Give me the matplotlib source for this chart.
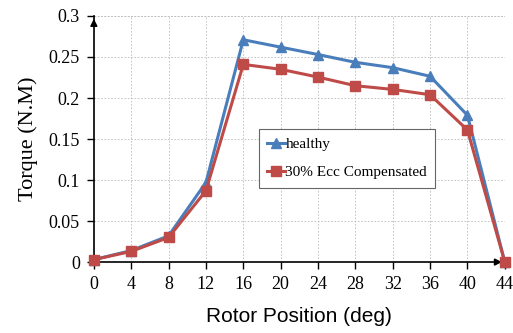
import matplotlib
matplotlib.use("Agg")
import matplotlib.pyplot as plt

positions = [0, 4, 8, 12, 16, 20, 24, 28, 32, 36, 40, 44]
healthy = [0.003, 0.014, 0.032, 0.097, 0.271, 0.262, 0.253, 0.2435, 0.237, 0.2265, 0.179, 0.0]
compensated = [0.003, 0.013, 0.030, 0.087, 0.241, 0.235, 0.2255, 0.215, 0.2105, 0.204, 0.161, 0.0]
xticks = [0, 4, 8, 12, 16, 20, 24, 28, 32, 36, 40, 44]
yticks = [0, 0.05, 0.1, 0.15, 0.2, 0.25, 0.3]
ytick_labels = ["0", "0.05", "0.1", "0.15", "0.2", "0.25", "0.3"]

serif = ["Liberation Serif", "DejaVu Serif"]
sans = ["Liberation Sans", "DejaVu Sans"]

fig = plt.figure(figsize=(5.13, 3.33), dpi=100)
ax = fig.add_axes([0.183, 0.213, 0.801, 0.739])

ax.plot(positions, healthy, color="#4A7EBB", lw=2.2, marker="^", ms=7.5,
        label="healthy", zorder=3, clip_on=False)
ax.plot(positions, compensated, color="#BE4B48", lw=2.2, marker="s", ms=6.5,
        label="30% Ecc Compensated", zorder=4, clip_on=False)

ax.set_xlim(0, 44)
ax.set_ylim(0, 0.3)
ax.set_xticks(xticks)
ax.set_yticks(yticks)
ax.set_yticklabels(ytick_labels)
for lbl in ax.get_xticklabels() + ax.get_yticklabels():
    lbl.set_fontfamily(serif)
    lbl.set_fontsize(13)
ax.tick_params(axis="both", direction="out", length=5, width=1, color="black", pad=5)

ax.grid(True, color="#BBBBBB", linestyle=(0, (2, 2)), linewidth=0.6)
for s in ["top", "right"]:
    ax.spines[s].set_visible(False)
for s in ["left", "bottom"]:
    ax.spines[s].set_linewidth(1.2)

# grid border at top and right
ax.axhline(0.3, color="#BBBBBB", linestyle=(0, (2, 2)), linewidth=0.6, zorder=1)
ax.axvline(44, color="#BBBBBB", linestyle=(0, (2, 2)), linewidth=0.6, zorder=1)

# arrows
ax.annotate("", xy=(0, 1.0), xytext=(0, 0.95), xycoords="axes fraction",
            arrowprops=dict(arrowstyle="-|>", color="black", lw=1.2, mutation_scale=10))
ax.annotate("", xy=(1.0, 0), xytext=(0.97, 0), xycoords="axes fraction",
            arrowprops=dict(arrowstyle="-|>", color="black", lw=1.2, mutation_scale=10))

ax.set_ylabel("Torque (N.M)", fontfamily=serif, fontsize=16, labelpad=8)
ax.set_xlabel("Rotor Position (deg)", fontfamily=sans, fontsize=15, labelpad=10)

leg = ax.legend(loc="upper left", bbox_to_anchor=(0.401, 0.541), prop={"family": serif, "size": 11},
                frameon=True, fancybox=False, edgecolor="#666666", framealpha=1,
                numpoints=1, handlelength=1.15, handletextpad=0.05, labelspacing=0.95,
                borderpad=0.55, borderaxespad=0)
leg.get_frame().set_linewidth(0.8)

fig.savefig("out.png", dpi=100)
